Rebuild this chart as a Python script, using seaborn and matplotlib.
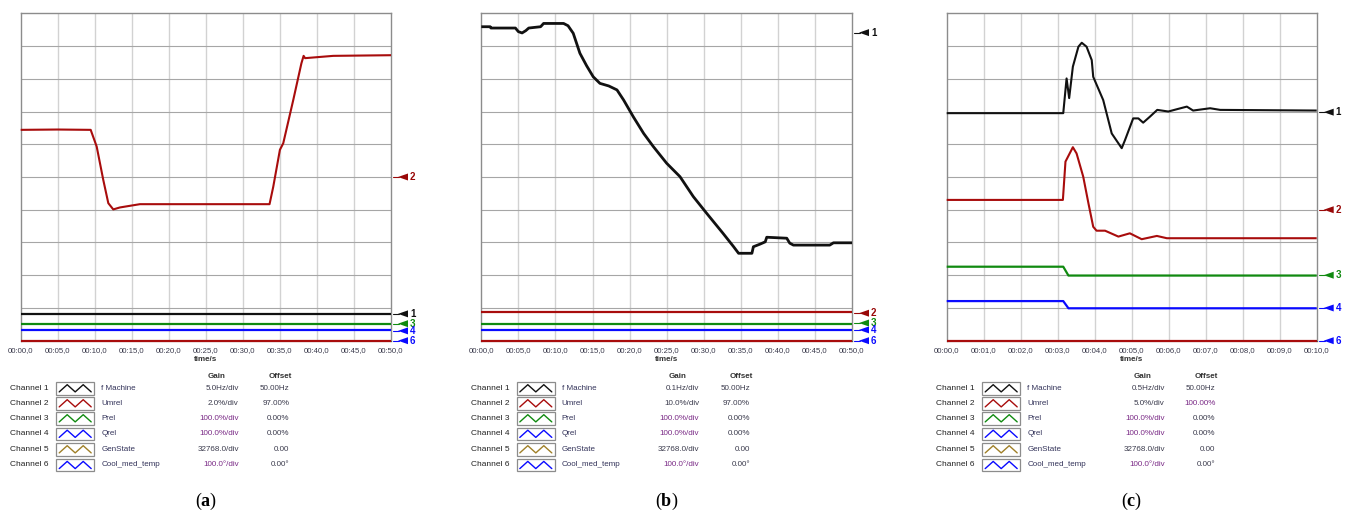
import matplotlib
matplotlib.use("Agg")
import matplotlib.pyplot as plt
import matplotlib.transforms as mtrans
from matplotlib.patches import Rectangle
from matplotlib.ticker import MultipleLocator, FuncFormatter
import seaborn as sns

# ---- data (values in screen divisions, 0 = bottom, 10 = top) ----
a_ch2_t = [0, 5, 9.45, 10.26, 11.15, 11.83, 12.5, 13.4, 16.1, 25, 33.6, 34.1, 35.0, 35.45, 36.8, 37.9, 38.2, 38.4, 42.2, 50]
a_ch2_v = [6.44, 6.45, 6.44, 5.93, 4.91, 4.20, 4.01, 4.07, 4.17, 4.17, 4.17, 4.70, 5.83, 6.03, 7.35, 8.47, 8.70, 8.63, 8.70, 8.72]
a_flat_levels = [0.82, 0.52, 0.32, 0.0]
a_flat_colors = ["black", "green", "blue", "darkred"]
a_marker_ids = ["1", "2", "3", "4", "6"]
a_marker_levels = [0.82, 5.0, 0.52, 0.30, 0.0]

b_ch1_t = [0, 1.2, 1.3, 4.6, 5.0, 5.5, 6.0, 6.4, 8.0, 8.4,
           11.1, 11.7, 12.4, 13.3, 14.2, 15.1, 16.0, 17.2, 18.3, 19.2,
           20.5, 21.9, 23.2, 25.0, 26.8, 28.6, 30.4, 32.6, 34.0, 34.7,
           36.5, 36.7, 37.6, 38.3, 38.5, 41.2, 41.6, 42.1, 47.0, 47.5, 50]
b_ch1_v = [9.59, 9.59, 9.55, 9.55, 9.44, 9.40, 9.47, 9.55, 9.59, 9.69,
           9.69, 9.62, 9.39, 8.78, 8.40, 8.06, 7.86, 7.78, 7.66, 7.35,
           6.84, 6.33, 5.93, 5.42, 5.01, 4.40, 3.89, 3.28, 2.88, 2.67,
           2.67, 2.87, 2.95, 3.02, 3.16, 3.13, 2.98, 2.92, 2.92, 2.99, 2.99]
b_flat_levels = [0.89, 0.52, 0.33, 0.0]
b_flat_colors = ["darkred", "green", "blue", "darkred"]
b_marker_ids = ["1", "2", "3", "4", "6"]
b_marker_levels = [9.41, 0.84, 0.54, 0.33, 0.0]

c_ch1_t = [0, 3.15, 3.24, 3.31, 3.41, 3.56, 3.65, 3.78, 3.92, 3.96,
           4.23, 4.46, 4.73, 4.82, 5.04, 5.18, 5.31, 5.49, 5.69, 5.99,
           6.22, 6.49, 6.66, 7.12, 7.39, 10]
c_ch1_v = [6.95, 6.95, 8.01, 7.41, 8.37, 8.98, 9.10, 8.98, 8.57, 8.06,
           7.35, 6.33, 5.88, 6.13, 6.79, 6.79, 6.66, 6.84, 7.05, 7.00,
           7.07, 7.15, 7.03, 7.10, 7.05, 7.03]
c_ch2_t = [0, 3.14, 3.21, 3.41, 3.51, 3.69, 3.83, 3.96, 4.05, 4.28, 4.64, 4.95, 5.27, 5.68, 5.95, 10]
c_ch2_v = [4.30, 4.30, 5.47, 5.91, 5.72, 5.01, 4.20, 3.48, 3.36, 3.36, 3.18, 3.28, 3.10, 3.20, 3.13, 3.13]
c_step_t = [0, 3.15, 3.29, 10]
c_ch3_v = [2.26, 2.26, 1.99, 1.99]
c_ch4_v = [1.21, 1.21, 0.99, 0.99]
c_marker_ids = ["1", "2", "3", "4", "6"]
c_marker_levels = [6.98, 4.0, 2.0, 1.0, 0.0]

channels = ["Channel 1", "Channel 2", "Channel 3", "Channel 4", "Channel 5", "Channel 6"]
signal_names = ["f Machine", "Umrel", "Prel", "Qrel", "GenState", "Cool_med_temp"]
gains_a = ["5.0Hz/div", "2.0%/div", "100.0%/div", "100.0%/div", "32768.0/div", "100.0°/div"]
gains_b = ["0.1Hz/div", "10.0%/div", "100.0%/div", "100.0%/div", "32768.0/div", "100.0°/div"]
gains_c = ["0.5Hz/div", "5.0%/div", "100.0%/div", "100.0%/div", "32768.0/div", "100.0°/div"]
offsets_a = ["50.00Hz", "97.00%", "0.00%", "0.00%", "0.00", "0.00°"]
offsets_b = ["50.00Hz", "97.00%", "0.00%", "0.00%", "0.00", "0.00°"]
offsets_c = ["50.00Hz", "100.00%", "0.00%", "0.00%", "0.00", "0.00°"]

COL = {"black": "#111111", "darkred": "#a80c0c", "green": "#108a10",
       "blue": "#0a0aff", "brown": "#a08028"}
chan_colors = [COL["black"], COL["darkred"], COL["green"], COL["blue"], COL["brown"], COL["blue"]]
marker_colors = {"1": COL["black"], "2": "#990808", "3": COL["green"], "4": COL["blue"], "6": COL["blue"]}

sns.set_style("white")
plt.rcParams["font.family"] = ["Liberation Sans", "DejaVu Sans"]
plt.rcParams["mathtext.fontset"] = "custom"
plt.rcParams["mathtext.rm"] = "Liberation Serif"
plt.rcParams["mathtext.bf"] = "Liberation Serif:bold"

W, H = 1348, 517
fig = plt.figure(figsize=(W / 100, H / 100), dpi=100)

TXT = "#3a3a4c"


def fmt_time(t, pos):
    m = int(t // 60)
    s = t - 60 * m
    return f"{m:02d}:{s:04.1f}".replace(".", ",")


def make_panel(left, width, tmax, major, minor):
    top, bottom = 13.3, 340.7
    ax = fig.add_axes([left / W, 1 - bottom / H, width / W, (bottom - top) / H])
    ax.set_xlim(0, tmax)
    ax.set_ylim(0, 10)
    ax.set_yticks(range(11))
    ax.yaxis.set_ticklabels([])
    ax.tick_params(axis="y", length=0)
    ax.xaxis.set_major_locator(MultipleLocator(major))
    ax.xaxis.set_minor_locator(MultipleLocator(minor))
    ax.xaxis.set_major_formatter(FuncFormatter(fmt_time))
    ax.tick_params(axis="x", which="major", length=2.4, width=0.7, color="#333333",
                   labelsize=5.6, labelcolor=TXT, pad=2.3)
    ax.tick_params(axis="x", which="minor", length=1.6, width=0.6, color="#444444")
    for x in ax.get_xticks():
        if 0 < x < tmax:
            ax.axvline(x, color="#d2d2d2", lw=1.0, zorder=0)
    for y in range(1, 10):
        ax.axhline(y, color="#a6a6a6", lw=0.8, zorder=0)
    for s in ["left", "top", "right"]:
        ax.spines[s].set_color("#8c8c8c")
        ax.spines[s].set_linewidth(1.0)
    ax.spines["bottom"].set_color("#555555")
    ax.spines["bottom"].set_linewidth(0.8)
    ax.set_xlabel("time/s", fontsize=5.8, fontweight="bold", color="#333333", labelpad=1)
    return ax


def trace(ax, t, v, color, lw=1.5):
    sns.lineplot(x=t, y=v, ax=ax, color=color, lw=lw, sort=False, estimator=None,
                 clip_on=False, zorder=3, solid_capstyle="butt")


def markers(ax, ids, levels, width_px):
    tr = mtrans.blended_transform_factory(ax.transAxes, ax.transData)
    px = 1.0 / width_px
    hh = 3.5 / 32.74
    for cid, lev in zip(ids, levels):
        c = marker_colors[cid]
        ax.plot([1 + 2 * px, 1 + 8 * px], [lev, lev], color=c, lw=0.8, transform=tr, clip_on=False)
        ax.fill([1 + 7 * px, 1 + 17 * px, 1 + 17 * px], [lev, lev + hh, lev - hh],
                color=c, transform=tr, clip_on=False, lw=0)
        ax.text(1 + 19 * px, lev, cid, color=c, fontsize=7, fontweight="bold",
                transform=tr, va="center", ha="left", clip_on=False)


def legend_table(ax0, left, gains, offsets, sub):
    ax0.text(left + 196, 376, "Gain", fontsize=5.8, fontweight="bold", color="#333333", ha="center", va="center")
    ax0.text(left + 260, 376, "Offset", fontsize=5.8, fontweight="bold", color="#333333", ha="center", va="center")
    rows = [388.3, 403.3, 418.3, 433.8, 449.3, 465.0]
    for i, y in enumerate(rows):
        ax0.text(left - 10.3, y, channels[i], fontsize=6.0, color="#222222", ha="left", va="center")
        bx = left + 35.5
        ax0.add_patch(Rectangle((bx, y - 6.2), 38, 12.4, facecolor="white",
                                edgecolor="#8c8c8c", lw=0.9))
        zx = [bx + 3 + k * 8 for k in range(5)]
        zy = [y + 3.6, y - 3.6, y + 3.6, y - 3.6, y + 3.6]
        ax0.plot(zx, zy, color=chan_colors[i], lw=1.0)
        ax0.text(left + 80.5, y, signal_names[i], fontsize=5.8, color="#33335a", ha="left", va="center")
        gcol = "#7a2a86" if gains[i].startswith("100.0") else TXT
        ax0.text(left + 218, y, gains[i], fontsize=5.8, color=gcol, ha="right", va="center")
        ocol = "#7a2a86" if offsets[i] == "100.00%" else TXT
        ax0.text(left + 268.8, y, offsets[i], fontsize=5.8, color=ocol, ha="right", va="center")
    ax0.text(left + 185, 501, sub, fontsize=13, ha="center", va="center", color="black",
             family="Liberation Serif")


# panel (a)
ax_a = make_panel(20.7, 370.3, 50, 5, 1)
trace(ax_a, a_ch2_t, a_ch2_v, COL["darkred"], lw=1.5)
for lev, cn in zip(a_flat_levels, a_flat_colors):
    trace(ax_a, [0, 50], [lev, lev], COL[cn], lw=1.6)
markers(ax_a, a_marker_ids, a_marker_levels, 370.3)

# panel (b)
ax_b = make_panel(481.3, 370.7, 50, 5, 1)
trace(ax_b, b_ch1_t, b_ch1_v, COL["black"], lw=2.0)
for lev, cn in zip(b_flat_levels, b_flat_colors):
    trace(ax_b, [0, 50], [lev, lev], COL[cn], lw=1.6)
markers(ax_b, b_marker_ids, b_marker_levels, 370.7)

# panel (c)
ax_c = make_panel(946.7, 370.0, 10, 1, 0.2)
trace(ax_c, c_ch1_t, c_ch1_v, COL["black"], lw=1.5)
trace(ax_c, c_ch2_t, c_ch2_v, COL["darkred"], lw=1.5)
trace(ax_c, c_step_t, c_ch3_v, COL["green"], lw=1.6)
trace(ax_c, c_step_t, c_ch4_v, COL["blue"], lw=1.6)
trace(ax_c, [0, 10], [0, 0], COL["darkred"], lw=1.6)
markers(ax_c, c_marker_ids, c_marker_levels, 370.0)

# overlay for legend tables and captions
ax0 = fig.add_axes([0, 0, 1, 1], zorder=-1)
ax0.set_xlim(0, W)
ax0.set_ylim(H, 0)
ax0.axis("off")
legend_table(ax0, 20.7, gains_a, offsets_a, r"($\mathbf{a}$)")
legend_table(ax0, 481.3, gains_b, offsets_b, r"($\mathbf{b}$)")
legend_table(ax0, 946.7, gains_c, offsets_c, r"($\mathbf{c}$)")

fig.savefig("out.png", dpi=100)
